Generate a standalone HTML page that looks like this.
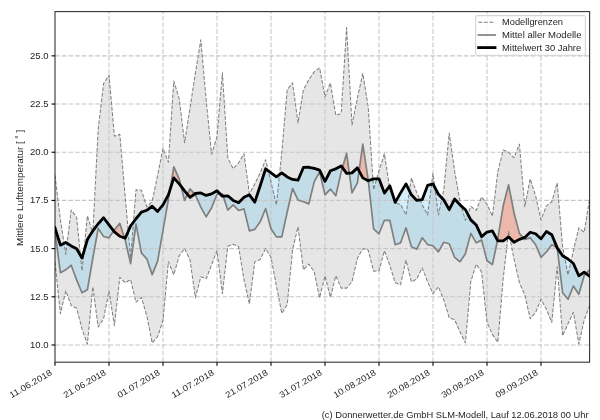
<!DOCTYPE html>
<html><head><meta charset="utf-8"><title>Mittlere Lufttemperatur</title>
<style>
html,body{margin:0;padding:0;background:#fff;}
body{width:600px;height:420px;overflow:hidden;font-family:"Liberation Sans",sans-serif;}
svg{display:block;will-change:transform;opacity:0.999;}
text{font-family:"Liberation Sans",sans-serif;fill:#262626;}
</style></head><body>
<svg width="600" height="420" viewBox="0 0 600 420">
<rect x="0" y="0" width="600" height="420" fill="#ffffff"/>
<defs>
<clipPath id="plot"><rect x="55.00" y="11.60" width="534.60" height="350.60"/></clipPath>

<clipPath id="below"><polygon points="55.00,227.80 60.40,245.15 65.80,242.45 71.20,245.92 76.60,248.81 82.00,258.06 87.40,239.56 92.80,230.88 98.20,223.75 103.60,217.77 109.00,224.91 114.40,231.85 119.80,236.28 125.20,238.21 130.60,225.87 136.00,218.74 141.40,212.18 146.80,210.26 152.20,206.21 157.60,211.41 163.00,204.86 168.40,194.83 173.80,177.87 179.20,183.85 184.60,190.79 190.00,197.34 195.40,193.49 200.80,192.91 206.20,195.41 211.60,193.87 217.00,190.79 222.40,196.18 227.80,195.80 233.20,200.42 238.60,202.74 244.00,197.34 249.40,194.83 254.80,202.16 260.20,185.77 265.60,168.81 271.00,172.86 276.40,176.91 281.80,172.86 287.20,176.91 292.60,179.41 298.00,180.18 303.40,167.46 308.80,167.27 314.20,168.43 319.60,170.16 325.00,181.34 330.40,170.74 335.80,168.81 341.20,165.92 346.60,173.44 352.00,172.86 357.40,167.85 362.80,177.87 368.20,180.76 373.60,178.84 379.00,178.84 384.40,193.10 389.80,185.77 395.20,202.35 400.60,192.91 406.00,183.85 411.40,194.83 416.80,200.42 422.20,199.65 427.60,185.39 433.00,183.85 438.40,194.26 443.80,200.04 449.20,209.68 454.60,199.08 460.00,204.86 465.40,209.68 470.80,219.89 476.20,224.91 481.60,236.67 487.00,232.04 492.40,230.88 497.80,240.91 503.20,240.91 508.60,236.86 514.00,242.26 519.40,239.36 524.80,237.44 530.20,232.23 535.60,233.77 541.00,238.79 546.40,231.46 551.80,234.74 557.20,247.85 562.60,255.75 568.00,259.03 573.40,263.46 578.80,275.80 584.20,272.13 589.60,276.18 589.60,367.20 55.00,367.20"/></clipPath>
<clipPath id="above"><polygon points="55.00,227.80 60.40,245.15 65.80,242.45 71.20,245.92 76.60,248.81 82.00,258.06 87.40,239.56 92.80,230.88 98.20,223.75 103.60,217.77 109.00,224.91 114.40,231.85 119.80,236.28 125.20,238.21 130.60,225.87 136.00,218.74 141.40,212.18 146.80,210.26 152.20,206.21 157.60,211.41 163.00,204.86 168.40,194.83 173.80,177.87 179.20,183.85 184.60,190.79 190.00,197.34 195.40,193.49 200.80,192.91 206.20,195.41 211.60,193.87 217.00,190.79 222.40,196.18 227.80,195.80 233.20,200.42 238.60,202.74 244.00,197.34 249.40,194.83 254.80,202.16 260.20,185.77 265.60,168.81 271.00,172.86 276.40,176.91 281.80,172.86 287.20,176.91 292.60,179.41 298.00,180.18 303.40,167.46 308.80,167.27 314.20,168.43 319.60,170.16 325.00,181.34 330.40,170.74 335.80,168.81 341.20,165.92 346.60,173.44 352.00,172.86 357.40,167.85 362.80,177.87 368.20,180.76 373.60,178.84 379.00,178.84 384.40,193.10 389.80,185.77 395.20,202.35 400.60,192.91 406.00,183.85 411.40,194.83 416.80,200.42 422.20,199.65 427.60,185.39 433.00,183.85 438.40,194.26 443.80,200.04 449.20,209.68 454.60,199.08 460.00,204.86 465.40,209.68 470.80,219.89 476.20,224.91 481.60,236.67 487.00,232.04 492.40,230.88 497.80,240.91 503.20,240.91 508.60,236.86 514.00,242.26 519.40,239.36 524.80,237.44 530.20,232.23 535.60,233.77 541.00,238.79 546.40,231.46 551.80,234.74 557.20,247.85 562.60,255.75 568.00,259.03 573.40,263.46 578.80,275.80 584.20,272.13 589.60,276.18 589.60,6.60 55.00,6.60"/></clipPath>
</defs>
<g clip-path="url(#plot)">
<polygon points="55.00,175.37 60.40,219.70 65.80,254.40 71.20,210.06 76.60,217.20 82.00,270.78 87.40,215.85 92.80,233.20 98.20,129.10 103.60,83.42 109.00,75.13 114.40,136.23 119.80,134.31 125.20,196.57 130.60,258.25 136.00,189.82 141.40,190.21 146.80,206.79 152.20,201.39 157.60,175.37 163.00,148.38 168.40,162.26 173.80,80.91 179.20,98.84 184.60,142.79 190.00,107.90 195.40,73.20 200.80,39.85 206.20,100.19 211.60,154.16 217.00,136.81 222.40,72.81 227.80,157.82 233.20,168.81 238.60,162.84 244.00,153.78 249.40,193.87 254.80,183.85 260.20,172.86 265.60,159.75 271.00,182.11 276.40,204.86 281.80,152.23 287.20,89.78 292.60,82.84 298.00,122.93 303.40,89.78 308.80,79.75 314.20,71.85 319.60,67.80 325.00,96.91 330.40,82.84 335.80,115.41 341.20,113.49 346.60,27.51 352.00,124.86 357.40,97.87 362.80,73.39 368.20,106.93 373.60,189.82 379.00,170.74 384.40,153.78 389.80,188.86 395.20,202.93 400.60,204.47 406.00,214.88 411.40,177.87 416.80,192.91 422.20,204.86 427.60,214.88 433.00,173.44 438.40,214.88 443.80,189.82 449.20,132.96 454.60,170.74 460.00,201.58 465.40,220.28 470.80,206.40 476.20,210.45 481.60,196.96 487.00,204.09 492.40,216.23 497.80,171.90 503.20,149.92 508.60,152.23 514.00,157.82 519.40,144.14 524.80,206.79 530.20,178.84 535.60,195.80 541.00,219.89 546.40,205.82 551.80,201.77 557.20,182.88 562.60,246.69 568.00,274.83 573.40,250.54 578.80,227.80 584.20,232.23 589.60,198.88 589.60,305.68 584.20,319.94 578.80,344.04 573.40,312.23 568.00,323.80 562.60,335.75 557.20,266.74 551.80,322.45 546.40,309.34 541.00,299.31 535.60,312.62 530.20,318.78 524.80,294.88 519.40,282.74 514.00,259.22 508.60,231.27 503.20,278.50 497.80,342.30 492.40,334.40 487.00,322.25 481.60,271.94 476.20,264.23 470.80,281.77 465.40,342.88 460.00,331.70 454.60,319.75 449.20,317.82 443.80,299.89 438.40,286.78 433.00,293.72 427.60,281.77 422.20,267.89 416.80,278.88 411.40,281.97 406.00,260.18 400.60,284.86 395.20,282.74 389.80,265.39 384.40,250.74 379.00,270.78 373.60,271.17 368.20,249.97 362.80,248.81 357.40,258.25 352.00,281.77 346.60,288.13 341.20,288.13 335.80,275.80 330.40,297.39 325.00,275.80 319.60,297.77 314.20,271.75 308.80,264.04 303.40,269.82 298.00,226.83 292.60,249.58 287.20,304.71 281.80,313.39 276.40,285.82 271.00,257.29 265.60,248.62 260.20,259.41 254.80,261.72 249.40,303.75 244.00,279.84 238.60,246.69 233.20,244.18 227.80,246.30 222.40,293.72 217.00,250.74 211.60,264.81 206.20,278.88 200.80,276.76 195.40,297.77 190.00,259.80 184.60,248.62 179.20,255.75 173.80,274.83 168.40,261.72 163.00,320.33 157.60,336.71 152.20,342.88 146.80,315.89 141.40,297.39 136.00,302.21 130.60,279.46 125.20,282.74 119.80,277.34 114.40,325.72 109.00,290.83 103.60,318.78 98.20,326.88 92.80,286.78 87.40,344.23 82.00,328.81 76.60,308.18 71.20,305.48 65.80,290.83 60.40,313.77 55.00,262.11" fill="#808080" fill-opacity="0.2" stroke="none"/>
<g clip-path="url(#below)"><polygon points="55.00,231.27 60.40,272.71 65.80,269.82 71.20,265.19 76.60,279.84 82.00,292.76 87.40,289.87 92.80,258.25 98.20,228.38 103.60,236.47 109.00,237.82 114.40,229.73 119.80,223.36 125.20,239.94 130.60,263.65 136.00,224.14 141.40,252.86 146.80,258.83 152.20,274.64 157.60,261.15 163.00,230.30 168.40,199.27 173.80,166.88 179.20,178.84 184.60,200.42 190.00,188.86 195.40,194.83 200.80,207.17 206.20,216.81 211.60,207.75 217.00,194.26 222.40,193.87 227.80,210.06 233.20,204.86 238.60,210.45 244.00,208.91 249.40,230.88 254.80,229.34 260.20,221.82 265.60,208.52 271.00,228.76 276.40,236.86 281.80,236.86 287.20,211.99 292.60,188.47 298.00,200.04 303.40,201.77 308.80,203.89 314.20,181.92 319.60,171.90 325.00,194.83 330.40,189.05 335.80,195.80 341.20,171.90 346.60,153.39 352.00,192.91 357.40,182.88 362.80,144.14 368.20,179.80 373.60,228.76 379.00,233.77 384.40,220.28 389.80,220.28 395.20,244.76 400.60,242.83 406.00,227.80 411.40,246.69 416.80,249.19 422.20,237.82 427.60,244.57 433.00,245.73 438.40,251.89 443.80,242.26 449.20,243.80 454.60,257.29 460.00,261.72 465.40,253.82 470.80,233.39 476.20,242.83 481.60,240.13 487.00,260.76 492.40,264.62 497.80,238.98 503.20,205.82 508.60,184.81 514.00,212.76 519.40,233.39 524.80,239.36 530.20,237.82 535.60,244.76 541.00,257.29 546.40,251.89 551.80,244.76 557.20,247.65 562.60,292.76 568.00,299.31 573.40,286.01 578.80,294.30 584.20,275.41 589.60,269.82 589.60,276.18 584.20,272.13 578.80,275.80 573.40,263.46 568.00,259.03 562.60,255.75 557.20,247.85 551.80,234.74 546.40,231.46 541.00,238.79 535.60,233.77 530.20,232.23 524.80,237.44 519.40,239.36 514.00,242.26 508.60,236.86 503.20,240.91 497.80,240.91 492.40,230.88 487.00,232.04 481.60,236.67 476.20,224.91 470.80,219.89 465.40,209.68 460.00,204.86 454.60,199.08 449.20,209.68 443.80,200.04 438.40,194.26 433.00,183.85 427.60,185.39 422.20,199.65 416.80,200.42 411.40,194.83 406.00,183.85 400.60,192.91 395.20,202.35 389.80,185.77 384.40,193.10 379.00,178.84 373.60,178.84 368.20,180.76 362.80,177.87 357.40,167.85 352.00,172.86 346.60,173.44 341.20,165.92 335.80,168.81 330.40,170.74 325.00,181.34 319.60,170.16 314.20,168.43 308.80,167.27 303.40,167.46 298.00,180.18 292.60,179.41 287.20,176.91 281.80,172.86 276.40,176.91 271.00,172.86 265.60,168.81 260.20,185.77 254.80,202.16 249.40,194.83 244.00,197.34 238.60,202.74 233.20,200.42 227.80,195.80 222.40,196.18 217.00,190.79 211.60,193.87 206.20,195.41 200.80,192.91 195.40,193.49 190.00,197.34 184.60,190.79 179.20,183.85 173.80,177.87 168.40,194.83 163.00,204.86 157.60,211.41 152.20,206.21 146.80,210.26 141.40,212.18 136.00,218.74 130.60,225.87 125.20,238.21 119.80,236.28 114.40,231.85 109.00,224.91 103.60,217.77 98.20,223.75 92.80,230.88 87.40,239.56 82.00,258.06 76.60,248.81 71.20,245.92 65.80,242.45 60.40,245.15 55.00,227.80" fill="rgb(111,198,238)" fill-opacity="0.3" fill-rule="nonzero" stroke="none"/></g>
<g clip-path="url(#above)"><polygon points="55.00,231.27 60.40,272.71 65.80,269.82 71.20,265.19 76.60,279.84 82.00,292.76 87.40,289.87 92.80,258.25 98.20,228.38 103.60,236.47 109.00,237.82 114.40,229.73 119.80,223.36 125.20,239.94 130.60,263.65 136.00,224.14 141.40,252.86 146.80,258.83 152.20,274.64 157.60,261.15 163.00,230.30 168.40,199.27 173.80,166.88 179.20,178.84 184.60,200.42 190.00,188.86 195.40,194.83 200.80,207.17 206.20,216.81 211.60,207.75 217.00,194.26 222.40,193.87 227.80,210.06 233.20,204.86 238.60,210.45 244.00,208.91 249.40,230.88 254.80,229.34 260.20,221.82 265.60,208.52 271.00,228.76 276.40,236.86 281.80,236.86 287.20,211.99 292.60,188.47 298.00,200.04 303.40,201.77 308.80,203.89 314.20,181.92 319.60,171.90 325.00,194.83 330.40,189.05 335.80,195.80 341.20,171.90 346.60,153.39 352.00,192.91 357.40,182.88 362.80,144.14 368.20,179.80 373.60,228.76 379.00,233.77 384.40,220.28 389.80,220.28 395.20,244.76 400.60,242.83 406.00,227.80 411.40,246.69 416.80,249.19 422.20,237.82 427.60,244.57 433.00,245.73 438.40,251.89 443.80,242.26 449.20,243.80 454.60,257.29 460.00,261.72 465.40,253.82 470.80,233.39 476.20,242.83 481.60,240.13 487.00,260.76 492.40,264.62 497.80,238.98 503.20,205.82 508.60,184.81 514.00,212.76 519.40,233.39 524.80,239.36 530.20,237.82 535.60,244.76 541.00,257.29 546.40,251.89 551.80,244.76 557.20,247.65 562.60,292.76 568.00,299.31 573.40,286.01 578.80,294.30 584.20,275.41 589.60,269.82 589.60,276.18 584.20,272.13 578.80,275.80 573.40,263.46 568.00,259.03 562.60,255.75 557.20,247.85 551.80,234.74 546.40,231.46 541.00,238.79 535.60,233.77 530.20,232.23 524.80,237.44 519.40,239.36 514.00,242.26 508.60,236.86 503.20,240.91 497.80,240.91 492.40,230.88 487.00,232.04 481.60,236.67 476.20,224.91 470.80,219.89 465.40,209.68 460.00,204.86 454.60,199.08 449.20,209.68 443.80,200.04 438.40,194.26 433.00,183.85 427.60,185.39 422.20,199.65 416.80,200.42 411.40,194.83 406.00,183.85 400.60,192.91 395.20,202.35 389.80,185.77 384.40,193.10 379.00,178.84 373.60,178.84 368.20,180.76 362.80,177.87 357.40,167.85 352.00,172.86 346.60,173.44 341.20,165.92 335.80,168.81 330.40,170.74 325.00,181.34 319.60,170.16 314.20,168.43 308.80,167.27 303.40,167.46 298.00,180.18 292.60,179.41 287.20,176.91 281.80,172.86 276.40,176.91 271.00,172.86 265.60,168.81 260.20,185.77 254.80,202.16 249.40,194.83 244.00,197.34 238.60,202.74 233.20,200.42 227.80,195.80 222.40,196.18 217.00,190.79 211.60,193.87 206.20,195.41 200.80,192.91 195.40,193.49 190.00,197.34 184.60,190.79 179.20,183.85 173.80,177.87 168.40,194.83 163.00,204.86 157.60,211.41 152.20,206.21 146.80,210.26 141.40,212.18 136.00,218.74 130.60,225.87 125.20,238.21 119.80,236.28 114.40,231.85 109.00,224.91 103.60,217.77 98.20,223.75 92.80,230.88 87.40,239.56 82.00,258.06 76.60,248.81 71.20,245.92 65.80,242.45 60.40,245.15 55.00,227.80" fill="rgb(252,79,39)" fill-opacity="0.3" stroke="none"/></g>
<line x1="109.00" y1="362.20" x2="109.00" y2="11.60" stroke="#c6c6c6" stroke-width="1.1" stroke-dasharray="4.7 2" fill="none"/>
<line x1="163.00" y1="362.20" x2="163.00" y2="11.60" stroke="#c6c6c6" stroke-width="1.1" stroke-dasharray="4.7 2" fill="none"/>
<line x1="217.00" y1="362.20" x2="217.00" y2="11.60" stroke="#c6c6c6" stroke-width="1.1" stroke-dasharray="4.7 2" fill="none"/>
<line x1="271.00" y1="362.20" x2="271.00" y2="11.60" stroke="#c6c6c6" stroke-width="1.1" stroke-dasharray="4.7 2" fill="none"/>
<line x1="325.00" y1="362.20" x2="325.00" y2="11.60" stroke="#c6c6c6" stroke-width="1.1" stroke-dasharray="4.7 2" fill="none"/>
<line x1="379.00" y1="362.20" x2="379.00" y2="11.60" stroke="#c6c6c6" stroke-width="1.1" stroke-dasharray="4.7 2" fill="none"/>
<line x1="433.00" y1="362.20" x2="433.00" y2="11.60" stroke="#c6c6c6" stroke-width="1.1" stroke-dasharray="4.7 2" fill="none"/>
<line x1="487.00" y1="362.20" x2="487.00" y2="11.60" stroke="#c6c6c6" stroke-width="1.1" stroke-dasharray="4.7 2" fill="none"/>
<line x1="541.00" y1="362.20" x2="541.00" y2="11.60" stroke="#c6c6c6" stroke-width="1.1" stroke-dasharray="4.7 2" fill="none"/>
<line x1="55.00" y1="345.00" x2="589.60" y2="345.00" stroke="#c6c6c6" stroke-width="1.1" stroke-dasharray="4.7 2" fill="none"/>
<line x1="55.00" y1="296.81" x2="589.60" y2="296.81" stroke="#c6c6c6" stroke-width="1.1" stroke-dasharray="4.7 2" fill="none"/>
<line x1="55.00" y1="248.62" x2="589.60" y2="248.62" stroke="#c6c6c6" stroke-width="1.1" stroke-dasharray="4.7 2" fill="none"/>
<line x1="55.00" y1="200.42" x2="589.60" y2="200.42" stroke="#c6c6c6" stroke-width="1.1" stroke-dasharray="4.7 2" fill="none"/>
<line x1="55.00" y1="152.23" x2="589.60" y2="152.23" stroke="#c6c6c6" stroke-width="1.1" stroke-dasharray="4.7 2" fill="none"/>
<line x1="55.00" y1="104.04" x2="589.60" y2="104.04" stroke="#c6c6c6" stroke-width="1.1" stroke-dasharray="4.7 2" fill="none"/>
<line x1="55.00" y1="55.85" x2="589.60" y2="55.85" stroke="#c6c6c6" stroke-width="1.1" stroke-dasharray="4.7 2" fill="none"/>
<polyline points="55.00,175.37 60.40,219.70 65.80,254.40 71.20,210.06 76.60,217.20 82.00,270.78 87.40,215.85 92.80,233.20 98.20,129.10 103.60,83.42 109.00,75.13 114.40,136.23 119.80,134.31 125.20,196.57 130.60,258.25 136.00,189.82 141.40,190.21 146.80,206.79 152.20,201.39 157.60,175.37 163.00,148.38 168.40,162.26 173.80,80.91 179.20,98.84 184.60,142.79 190.00,107.90 195.40,73.20 200.80,39.85 206.20,100.19 211.60,154.16 217.00,136.81 222.40,72.81 227.80,157.82 233.20,168.81 238.60,162.84 244.00,153.78 249.40,193.87 254.80,183.85 260.20,172.86 265.60,159.75 271.00,182.11 276.40,204.86 281.80,152.23 287.20,89.78 292.60,82.84 298.00,122.93 303.40,89.78 308.80,79.75 314.20,71.85 319.60,67.80 325.00,96.91 330.40,82.84 335.80,115.41 341.20,113.49 346.60,27.51 352.00,124.86 357.40,97.87 362.80,73.39 368.20,106.93 373.60,189.82 379.00,170.74 384.40,153.78 389.80,188.86 395.20,202.93 400.60,204.47 406.00,214.88 411.40,177.87 416.80,192.91 422.20,204.86 427.60,214.88 433.00,173.44 438.40,214.88 443.80,189.82 449.20,132.96 454.60,170.74 460.00,201.58 465.40,220.28 470.80,206.40 476.20,210.45 481.60,196.96 487.00,204.09 492.40,216.23 497.80,171.90 503.20,149.92 508.60,152.23 514.00,157.82 519.40,144.14 524.80,206.79 530.20,178.84 535.60,195.80 541.00,219.89 546.40,205.82 551.80,201.77 557.20,182.88 562.60,246.69 568.00,274.83 573.40,250.54 578.80,227.80 584.20,232.23 589.60,198.88" stroke="#808080" stroke-width="1.04" stroke-dasharray="3.85 1.67" fill="none" stroke-linejoin="round"/>
<polyline points="55.00,262.11 60.40,313.77 65.80,290.83 71.20,305.48 76.60,308.18 82.00,328.81 87.40,344.23 92.80,286.78 98.20,326.88 103.60,318.78 109.00,290.83 114.40,325.72 119.80,277.34 125.20,282.74 130.60,279.46 136.00,302.21 141.40,297.39 146.80,315.89 152.20,342.88 157.60,336.71 163.00,320.33 168.40,261.72 173.80,274.83 179.20,255.75 184.60,248.62 190.00,259.80 195.40,297.77 200.80,276.76 206.20,278.88 211.60,264.81 217.00,250.74 222.40,293.72 227.80,246.30 233.20,244.18 238.60,246.69 244.00,279.84 249.40,303.75 254.80,261.72 260.20,259.41 265.60,248.62 271.00,257.29 276.40,285.82 281.80,313.39 287.20,304.71 292.60,249.58 298.00,226.83 303.40,269.82 308.80,264.04 314.20,271.75 319.60,297.77 325.00,275.80 330.40,297.39 335.80,275.80 341.20,288.13 346.60,288.13 352.00,281.77 357.40,258.25 362.80,248.81 368.20,249.97 373.60,271.17 379.00,270.78 384.40,250.74 389.80,265.39 395.20,282.74 400.60,284.86 406.00,260.18 411.40,281.97 416.80,278.88 422.20,267.89 427.60,281.77 433.00,293.72 438.40,286.78 443.80,299.89 449.20,317.82 454.60,319.75 460.00,331.70 465.40,342.88 470.80,281.77 476.20,264.23 481.60,271.94 487.00,322.25 492.40,334.40 497.80,342.30 503.20,278.50 508.60,231.27 514.00,259.22 519.40,282.74 524.80,294.88 530.20,318.78 535.60,312.62 541.00,299.31 546.40,309.34 551.80,322.45 557.20,266.74 562.60,335.75 568.00,323.80 573.40,312.23 578.80,344.04 584.20,319.94 589.60,305.68" stroke="#808080" stroke-width="1.04" stroke-dasharray="3.85 1.67" fill="none" stroke-linejoin="round"/>
<polyline points="55.00,231.27 60.40,272.71 65.80,269.82 71.20,265.19 76.60,279.84 82.00,292.76 87.40,289.87 92.80,258.25 98.20,228.38 103.60,236.47 109.00,237.82 114.40,229.73 119.80,223.36 125.20,239.94 130.60,263.65 136.00,224.14 141.40,252.86 146.80,258.83 152.20,274.64 157.60,261.15 163.00,230.30 168.40,199.27 173.80,166.88 179.20,178.84 184.60,200.42 190.00,188.86 195.40,194.83 200.80,207.17 206.20,216.81 211.60,207.75 217.00,194.26 222.40,193.87 227.80,210.06 233.20,204.86 238.60,210.45 244.00,208.91 249.40,230.88 254.80,229.34 260.20,221.82 265.60,208.52 271.00,228.76 276.40,236.86 281.80,236.86 287.20,211.99 292.60,188.47 298.00,200.04 303.40,201.77 308.80,203.89 314.20,181.92 319.60,171.90 325.00,194.83 330.40,189.05 335.80,195.80 341.20,171.90 346.60,153.39 352.00,192.91 357.40,182.88 362.80,144.14 368.20,179.80 373.60,228.76 379.00,233.77 384.40,220.28 389.80,220.28 395.20,244.76 400.60,242.83 406.00,227.80 411.40,246.69 416.80,249.19 422.20,237.82 427.60,244.57 433.00,245.73 438.40,251.89 443.80,242.26 449.20,243.80 454.60,257.29 460.00,261.72 465.40,253.82 470.80,233.39 476.20,242.83 481.60,240.13 487.00,260.76 492.40,264.62 497.80,238.98 503.20,205.82 508.60,184.81 514.00,212.76 519.40,233.39 524.80,239.36 530.20,237.82 535.60,244.76 541.00,257.29 546.40,251.89 551.80,244.76 557.20,247.65 562.60,292.76 568.00,299.31 573.40,286.01 578.80,294.30 584.20,275.41 589.60,269.82" stroke="#808080" stroke-width="1.7" fill="none" stroke-linejoin="round" stroke-linecap="square"/>
<polyline points="55.00,227.80 60.40,245.15 65.80,242.45 71.20,245.92 76.60,248.81 82.00,258.06 87.40,239.56 92.80,230.88 98.20,223.75 103.60,217.77 109.00,224.91 114.40,231.85 119.80,236.28 125.20,238.21 130.60,225.87 136.00,218.74 141.40,212.18 146.80,210.26 152.20,206.21 157.60,211.41 163.00,204.86 168.40,194.83 173.80,177.87 179.20,183.85 184.60,190.79 190.00,197.34 195.40,193.49 200.80,192.91 206.20,195.41 211.60,193.87 217.00,190.79 222.40,196.18 227.80,195.80 233.20,200.42 238.60,202.74 244.00,197.34 249.40,194.83 254.80,202.16 260.20,185.77 265.60,168.81 271.00,172.86 276.40,176.91 281.80,172.86 287.20,176.91 292.60,179.41 298.00,180.18 303.40,167.46 308.80,167.27 314.20,168.43 319.60,170.16 325.00,181.34 330.40,170.74 335.80,168.81 341.20,165.92 346.60,173.44 352.00,172.86 357.40,167.85 362.80,177.87 368.20,180.76 373.60,178.84 379.00,178.84 384.40,193.10 389.80,185.77 395.20,202.35 400.60,192.91 406.00,183.85 411.40,194.83 416.80,200.42 422.20,199.65 427.60,185.39 433.00,183.85 438.40,194.26 443.80,200.04 449.20,209.68 454.60,199.08 460.00,204.86 465.40,209.68 470.80,219.89 476.20,224.91 481.60,236.67 487.00,232.04 492.40,230.88 497.80,240.91 503.20,240.91 508.60,236.86 514.00,242.26 519.40,239.36 524.80,237.44 530.20,232.23 535.60,233.77 541.00,238.79 546.40,231.46 551.80,234.74 557.20,247.85 562.60,255.75 568.00,259.03 573.40,263.46 578.80,275.80 584.20,272.13 589.60,276.18" stroke="#000000" stroke-width="2.8" fill="none" stroke-linejoin="round" stroke-linecap="square"/>
</g>
<rect x="55.00" y="11.60" width="534.60" height="350.60" fill="none" stroke="#000" stroke-opacity="0.8" stroke-width="1.1"/>
<line x1="51.50" y1="345.00" x2="55.00" y2="345.00" stroke="#000" stroke-width="1.1"/>
<text x="48.60" y="347.90" font-size="8.6" text-anchor="end" textLength="18.55" lengthAdjust="spacingAndGlyphs" >10.0</text>
<line x1="51.50" y1="296.81" x2="55.00" y2="296.81" stroke="#000" stroke-width="1.1"/>
<text x="48.60" y="299.71" font-size="8.6" text-anchor="end" textLength="18.55" lengthAdjust="spacingAndGlyphs" >12.5</text>
<line x1="51.50" y1="248.62" x2="55.00" y2="248.62" stroke="#000" stroke-width="1.1"/>
<text x="48.60" y="251.52" font-size="8.6" text-anchor="end" textLength="18.55" lengthAdjust="spacingAndGlyphs" >15.0</text>
<line x1="51.50" y1="200.42" x2="55.00" y2="200.42" stroke="#000" stroke-width="1.1"/>
<text x="48.60" y="203.32" font-size="8.6" text-anchor="end" textLength="18.55" lengthAdjust="spacingAndGlyphs" >17.5</text>
<line x1="51.50" y1="152.23" x2="55.00" y2="152.23" stroke="#000" stroke-width="1.1"/>
<text x="48.60" y="155.13" font-size="8.6" text-anchor="end" textLength="18.55" lengthAdjust="spacingAndGlyphs" >20.0</text>
<line x1="51.50" y1="104.04" x2="55.00" y2="104.04" stroke="#000" stroke-width="1.1"/>
<text x="48.60" y="106.94" font-size="8.6" text-anchor="end" textLength="18.55" lengthAdjust="spacingAndGlyphs" >22.5</text>
<line x1="51.50" y1="55.85" x2="55.00" y2="55.85" stroke="#000" stroke-width="1.1"/>
<text x="48.60" y="58.75" font-size="8.6" text-anchor="end" textLength="18.55" lengthAdjust="spacingAndGlyphs" >25.0</text>
<line x1="55.00" y1="362.20" x2="55.00" y2="365.70" stroke="#000" stroke-width="1.1"/>
<text transform="translate(52.70,374.40) rotate(-30)" x="0" y="0" font-size="8.6" text-anchor="end" textLength="47.69" lengthAdjust="spacingAndGlyphs">11.06.2018</text>
<line x1="109.00" y1="362.20" x2="109.00" y2="365.70" stroke="#000" stroke-width="1.1"/>
<text transform="translate(106.70,374.40) rotate(-30)" x="0" y="0" font-size="8.6" text-anchor="end" textLength="47.69" lengthAdjust="spacingAndGlyphs">21.06.2018</text>
<line x1="163.00" y1="362.20" x2="163.00" y2="365.70" stroke="#000" stroke-width="1.1"/>
<text transform="translate(160.70,374.40) rotate(-30)" x="0" y="0" font-size="8.6" text-anchor="end" textLength="47.69" lengthAdjust="spacingAndGlyphs">01.07.2018</text>
<line x1="217.00" y1="362.20" x2="217.00" y2="365.70" stroke="#000" stroke-width="1.1"/>
<text transform="translate(214.70,374.40) rotate(-30)" x="0" y="0" font-size="8.6" text-anchor="end" textLength="47.69" lengthAdjust="spacingAndGlyphs">11.07.2018</text>
<line x1="271.00" y1="362.20" x2="271.00" y2="365.70" stroke="#000" stroke-width="1.1"/>
<text transform="translate(268.70,374.40) rotate(-30)" x="0" y="0" font-size="8.6" text-anchor="end" textLength="47.69" lengthAdjust="spacingAndGlyphs">21.07.2018</text>
<line x1="325.00" y1="362.20" x2="325.00" y2="365.70" stroke="#000" stroke-width="1.1"/>
<text transform="translate(322.70,374.40) rotate(-30)" x="0" y="0" font-size="8.6" text-anchor="end" textLength="47.69" lengthAdjust="spacingAndGlyphs">31.07.2018</text>
<line x1="379.00" y1="362.20" x2="379.00" y2="365.70" stroke="#000" stroke-width="1.1"/>
<text transform="translate(376.70,374.40) rotate(-30)" x="0" y="0" font-size="8.6" text-anchor="end" textLength="47.69" lengthAdjust="spacingAndGlyphs">10.08.2018</text>
<line x1="433.00" y1="362.20" x2="433.00" y2="365.70" stroke="#000" stroke-width="1.1"/>
<text transform="translate(430.70,374.40) rotate(-30)" x="0" y="0" font-size="8.6" text-anchor="end" textLength="47.69" lengthAdjust="spacingAndGlyphs">20.08.2018</text>
<line x1="487.00" y1="362.20" x2="487.00" y2="365.70" stroke="#000" stroke-width="1.1"/>
<text transform="translate(484.70,374.40) rotate(-30)" x="0" y="0" font-size="8.6" text-anchor="end" textLength="47.69" lengthAdjust="spacingAndGlyphs">30.08.2018</text>
<line x1="541.00" y1="362.20" x2="541.00" y2="365.70" stroke="#000" stroke-width="1.1"/>
<text transform="translate(538.70,374.40) rotate(-30)" x="0" y="0" font-size="8.6" text-anchor="end" textLength="47.69" lengthAdjust="spacingAndGlyphs">09.09.2018</text>
<text transform="translate(23.20,187.90) rotate(-90)" x="0" y="0" font-size="8.6" text-anchor="middle" textLength="116.34" lengthAdjust="spacingAndGlyphs">Mittlere Lufttemperatur [ &#730; ]</text>
<text x="588.60" y="417.60" font-size="8.6" text-anchor="end" textLength="266.82" lengthAdjust="spacingAndGlyphs" >(c) Donnerwetter.de GmbH SLM-Modell, Lauf 12.06.2018 00 Uhr</text>
<rect x="475.6" y="15.6" width="109.8" height="39.6" rx="1.7" ry="1.7" fill="#ffffff" fill-opacity="0.8" stroke="#cccccc" stroke-opacity="0.8" stroke-width="1.1"/>
<line x1="478.4" y1="22.2" x2="495.1" y2="22.2" stroke="#808080" stroke-width="1.04" stroke-dasharray="3.85 1.67"/>
<line x1="477.6" y1="35.0" x2="496.0" y2="35.0" stroke="#808080" stroke-width="1.7"/>
<line x1="477.2" y1="47.6" x2="496.4" y2="47.6" stroke="#000" stroke-width="2.8"/>
<text x="502.00" y="25.20" font-size="8.6" text-anchor="start" textLength="61.04" lengthAdjust="spacingAndGlyphs" >Modellgrenzen</text>
<text x="502.00" y="38.00" font-size="8.6" text-anchor="start" textLength="79.50" lengthAdjust="spacingAndGlyphs" >Mittel aller Modelle</text>
<text x="502.00" y="50.60" font-size="8.6" text-anchor="start" textLength="79.20" lengthAdjust="spacingAndGlyphs" >Mittelwert 30 Jahre</text>
</svg></body></html>
